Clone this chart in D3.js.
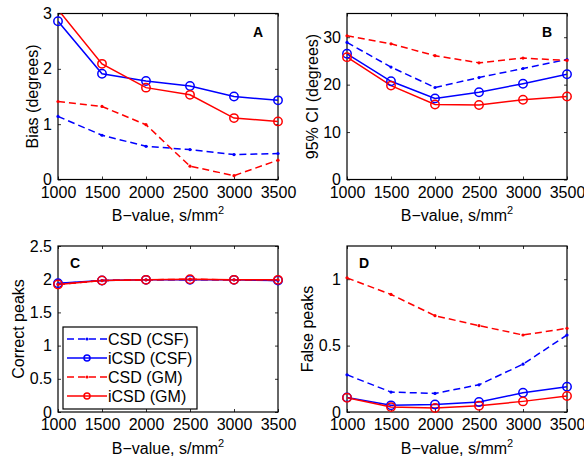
<!DOCTYPE html>
<html>
<head>
<meta charset="utf-8">
<script src="https://cdn.jsdelivr.net/npm/d3@7"></script>
<style>
  body { margin: 0; background: #fff; }
  text { font-family: "Liberation Sans", Arial, Helvetica, sans-serif; fill: #000; }
</style>
</head>
<body>
<div id="chart"></div>
<script>
// b-values on the x axis (all panels)
const bValues = [1000, 1500, 2000, 2500, 3000, 3500];
const seriesNames = ["CSD (CSF)", "iCSD (CSF)", "CSD (GM)", "iCSD (GM)"];

// A - bias
const biasCsdCsf  = [1.14, 0.80, 0.60, 0.54, 0.45, 0.47];
const biasIcsdCsf = [2.86, 1.91, 1.78, 1.69, 1.50, 1.43];
const biasCsdGm   = [1.41, 1.32, 0.99, 0.24, 0.07, 0.35];
const biasIcsdGm  = [3.07, 2.09, 1.66, 1.53, 1.11, 1.05];

// B - 95% CI
const ciCsdCsf  = [28.9, 23.7, 19.4, 21.5, 23.4, 25.3];
const ciIcsdCsf = [26.5, 20.7, 17.1, 18.4, 20.2, 22.2];
const ciCsdGm   = [30.3, 28.6, 26.1, 24.6, 25.6, 25.1];
const ciIcsdGm  = [25.8, 19.8, 15.8, 15.7, 16.8, 17.5];

// C - correct peaks
const correctCsdCsf  = [1.93, 1.98, 1.99, 1.99, 1.99, 1.98];
const correctIcsdCsf = [1.94, 1.98, 1.99, 1.99, 1.99, 1.98];
const correctCsdGm   = [1.92, 1.98, 1.99, 2.00, 1.99, 1.99];
const correctIcsdGm  = [1.92, 1.98, 1.99, 2.00, 1.99, 1.99];

// D - false peaks
const falseCsdCsf  = [0.28, 0.15, 0.14, 0.205, 0.36, 0.58];
const falseIcsdCsf = [0.11, 0.05, 0.057, 0.075, 0.145, 0.19];
const falseCsdGm   = [1.01, 0.885, 0.725, 0.65, 0.58, 0.63];
const falseIcsdGm  = [0.107, 0.037, 0.03, 0.047, 0.08, 0.12];

// y-axis ticks per panel
const yTicksA = [0, 1, 2, 3];
const yTicksB = [0, 10, 20, 30];
const yTicksC = [0, 0.5, 1, 1.5, 2, 2.5];
const yTicksD = [0, 0.5, 1];

const seriesStyle = [
  {color: "#0000ff", dashed: true},
  {color: "#0000ff", dashed: false},
  {color: "#ff0000", dashed: true},
  {color: "#ff0000", dashed: false}
];

const panels = [
  {id: "A", left: 58, top: 13.5, yDomain: [0, 3], ticks: yTicksA, ylabel: "Bias (degrees)", ylabelX: 32,
   series: [biasCsdCsf, biasIcsdCsf, biasCsdGm, biasIcsdGm], letterPos: "right"},
  {id: "B", left: 347, top: 13.5, yDomain: [0, 35], ticks: yTicksB, ylabel: "95% CI (degrees)", ylabelX: 312,
   series: [ciCsdCsf, ciIcsdCsf, ciCsdGm, ciIcsdGm], letterPos: "right"},
  {id: "C", left: 58, top: 246, yDomain: [0, 2.5], ticks: yTicksC, ylabel: "Correct peaks", ylabelX: 18,
   series: [correctCsdCsf, correctIcsdCsf, correctCsdGm, correctIcsdGm], letterPos: "left"},
  {id: "D", left: 347, top: 246, yDomain: [0, 1.25], ticks: yTicksD, ylabel: "False peaks", ylabelX: 307,
   series: [falseCsdCsf, falseIcsdCsf, falseCsdGm, falseIcsdGm], letterPos: "left"}
];

const W = 584, H = 457;
const pw = 220, ph = 166;
const tickLen = 3;

const svg = d3.select("#chart").append("svg")
  .attr("width", W).attr("height", H);

panels.forEach(function(p, pi) {
  const g = svg.append("g").attr("transform", `translate(${p.left},${p.top})`);

  const x = d3.scaleLinear().domain([1000, 3500]).range([0, pw]);
  const y = d3.scaleLinear().domain(p.yDomain).range([ph, 0]);

  // clip
  g.append("clipPath").attr("id", "clip" + p.id)
    .append("rect").attr("width", pw).attr("height", ph);

  // ticks on all four sides, pointing inward
  const xb = g.append("g").attr("transform", `translate(0,${ph})`)
    .call(d3.axisBottom(x).tickValues(bValues).tickSize(-tickLen).tickPadding(7).tickFormat(d3.format("d")));
  const xt = g.append("g")
    .call(d3.axisTop(x).tickValues(bValues).tickSize(-tickLen).tickFormat(""));
  const yl = g.append("g")
    .call(d3.axisLeft(y).tickValues(p.ticks).tickSize(-tickLen).tickPadding(6).tickFormat(d3.format("")));
  const yr = g.append("g").attr("transform", `translate(${pw},0)`)
    .call(d3.axisRight(y).tickValues(p.ticks).tickSize(-tickLen).tickFormat(""));
  [xb, xt, yl, yr].forEach(function(a) {
    a.select(".domain").remove();
    a.selectAll("line").attr("stroke", "#000").attr("stroke-width", 0.8);
    a.selectAll("text").style("font-size", "16px").style("font-family", '"Liberation Sans", Arial, sans-serif');
  });

  // box
  g.append("rect").attr("width", pw).attr("height", ph)
    .attr("fill", "none").attr("stroke", "#000").attr("stroke-width", 1.2);

  const line = d3.line().x((d, i) => x(bValues[i])).y(d => y(d));
  const plot = g.append("g").attr("clip-path", `url(#clip${p.id})`);

  p.series.forEach(function(vals, si) {
    const st = seriesStyle[si];
    plot.append("path")
      .attr("d", line(vals))
      .attr("fill", "none")
      .attr("stroke", st.color)
      .attr("stroke-width", 1.5)
      .attr("stroke-dasharray", st.dashed ? "7,4" : null);

    // markers only for points inside the axes
    const pts = vals.map((v, i) => ({b: bValues[i], v: v}))
      .filter(d => d.v >= p.yDomain[0] && d.v <= p.yDomain[1]);
    g.selectAll(null).data(pts).join("circle")
      .attr("cx", d => x(d.b))
      .attr("cy", d => y(d.v))
      .attr("r", st.dashed ? 1.6 : 4.2)
      .attr("fill", st.dashed ? st.color : "none")
      .attr("stroke", st.color)
      .attr("stroke-width", st.dashed ? 0 : 1.5);
  });

  // panel letter
  g.append("text")
    .attr("x", p.letterPos === "right" ? 200 : 17)
    .attr("y", p.letterPos === "right" ? 23.5 : 22)
    .attr("text-anchor", "middle")
    .style("font-size", "14px").style("font-weight", "bold")
    .text(p.id);

  // y label
  svg.append("text")
    .attr("transform", `translate(${p.ylabelX},${p.top + ph / 2}) rotate(-90)`)
    .attr("text-anchor", "middle")
    .attr("dy", "0.35em")
    .style("font-size", "16px")
    .text(p.ylabel);

  // x label
  const xlab = svg.append("text")
    .attr("x", p.left + pw / 2)
    .attr("y", p.top + ph + 41.5)
    .attr("text-anchor", "middle")
    .style("font-size", "16px");
  xlab.append("tspan").text("B\u2212value, s/mm");
  xlab.append("tspan").attr("dy", -7).style("font-size", "11px").text("2");

  // legend in panel C
  if (p.id === "C") {
    const lg = g.append("g").attr("transform", "translate(5,81)");
    lg.append("rect").attr("width", 134).attr("height", 82)
      .attr("fill", "#fff").attr("stroke", "#000").attr("stroke-width", 1.2);
    seriesNames.forEach(function(name, si) {
      const st = seriesStyle[si];
      const yy = 12 + si * 19;
      lg.append("line").attr("x1", 4).attr("x2", 44).attr("y1", yy).attr("y2", yy)
        .attr("stroke", st.color).attr("stroke-width", 1.5)
        .attr("stroke-dasharray", st.dashed ? "7,4" : null);
      lg.append("circle").attr("cx", 24).attr("cy", yy)
        .attr("r", st.dashed ? 1.6 : 3)
        .attr("fill", st.dashed ? st.color : "none")
        .attr("stroke", st.color).attr("stroke-width", st.dashed ? 0 : 1.5);
      lg.append("text").attr("x", 45).attr("y", yy).attr("dy", "0.35em")
        .style("font-size", "16px").text(name);
    });
  }
});
</script>
</body>
</html>
